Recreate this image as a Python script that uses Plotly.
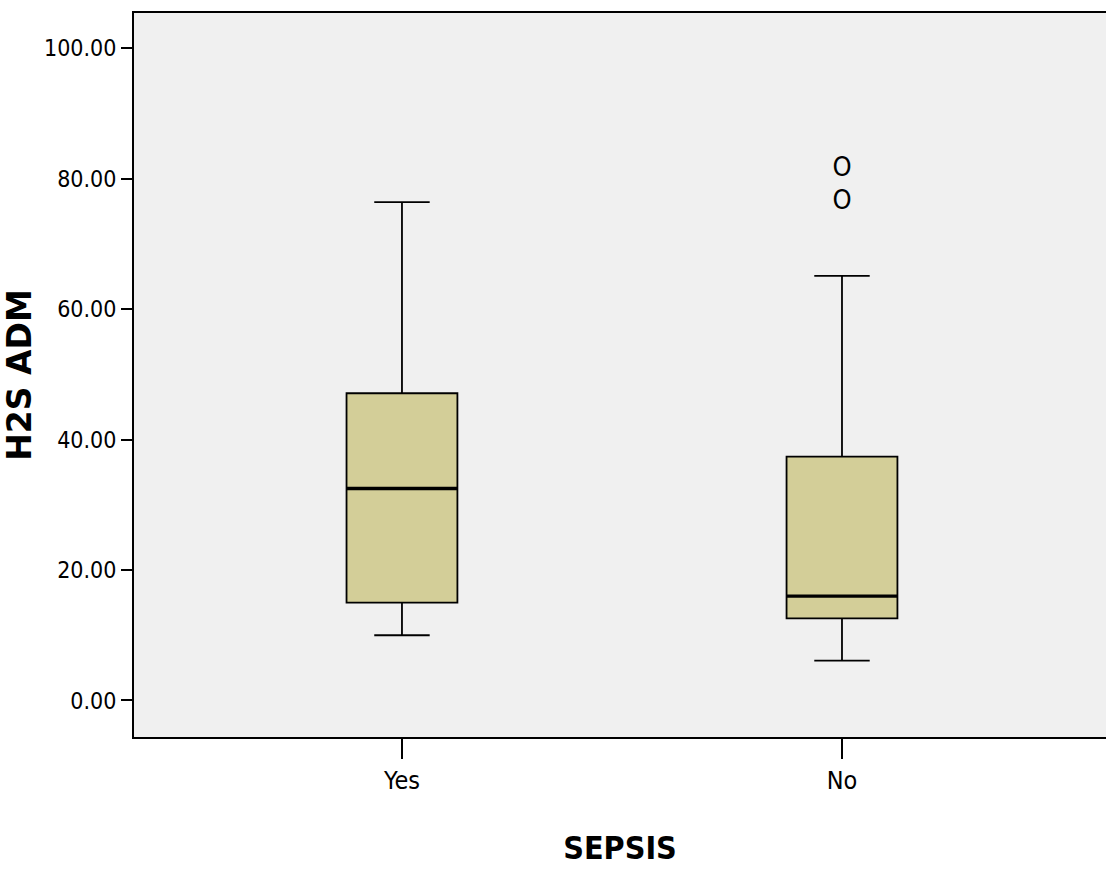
import plotly.graph_objects as go

categories = ["Yes", "No"]
positions = [0, 1]
q1 = [15.0, 12.6]
median = [32.5, 16.0]
q3 = [47.1, 37.4]
lowerfence = [10.0, 6.1]
upperfence = [76.4, 65.1]
outlier_x = [1, 1]
outlier_y = [81.5, 76.4]
y_ticks = [0, 20, 40, 60, 80, 100]

BOX_W = 0.252
FILL = "#D3CE98"
NARROW = "Liberation Sans Narrow, Arial Narrow, DejaVu Sans Condensed, sans-serif"

fig = go.Figure()
for i, cat in enumerate(categories):
    fig.add_trace(go.Box(
        x=[positions[i]], q1=[q1[i]], median=[median[i]], q3=[q3[i]],
        lowerfence=[lowerfence[i]], upperfence=[upperfence[i]],
        width=BOX_W, whiskerwidth=0.5, fillcolor=FILL,
        line=dict(color="black", width=1.8), boxpoints=False,
        name=cat, showlegend=False, hoverinfo="skip",
    ))
    fig.add_trace(go.Scatter(
        x=[positions[i] - BOX_W / 2, positions[i] + BOX_W / 2],
        y=[median[i], median[i]], mode="lines",
        line=dict(color="black", width=3.4), showlegend=False, hoverinfo="skip",
    ))

fig.add_trace(go.Scatter(
    x=outlier_x, y=outlier_y, mode="text", text=["O"] * len(outlier_y),
    textfont=dict(family=NARROW, size=27, color="black"),
    showlegend=False, hoverinfo="skip",
))

fig.update_layout(
    width=1106, height=869,
    margin=dict(l=134, r=0, t=13, b=132),
    paper_bgcolor="white", plot_bgcolor="#F0F0F0",
    font=dict(family=NARROW, color="black"),
)
fig.update_xaxes(
    range=[-0.609, 1.6], tickvals=positions, ticktext=categories,
    showgrid=False, zeroline=False, automargin=False,
    showline=True, linecolor="black", linewidth=2, mirror=True,
    ticks="outside", ticklen=20, tickwidth=2, tickcolor="black",
    tickfont=dict(family=NARROW, size=25),
    title=dict(text="<b>SEPSIS</b>", font=dict(family=NARROW, size=32), standoff=43),
)
fig.update_yaxes(
    range=[-5.6, 105.4], tickvals=y_ticks, tickformat=".2f",
    showgrid=False, zeroline=False, automargin=False,
    showline=True, linecolor="black", linewidth=2,
    ticks="outside", ticklen=11, tickwidth=2, tickcolor="black",
    tickfont=dict(family=NARROW, size=23),
    title=dict(text="<b>H2S ADM</b>", font=dict(family="DejaVu Sans", size=33), standoff=18),
)

fig.write_html("out.html")
